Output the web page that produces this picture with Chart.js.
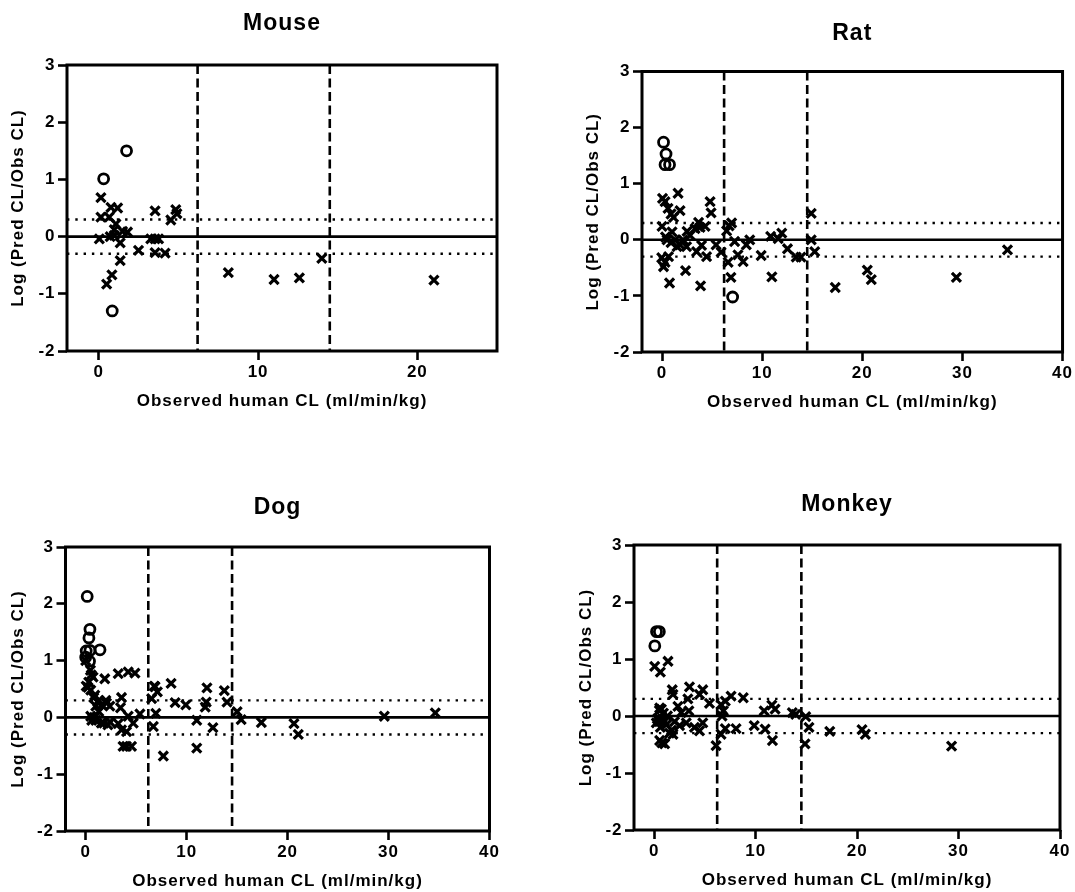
<!DOCTYPE html>
<html>
<head>
<meta charset="utf-8">
<script src="https://cdn.jsdelivr.net/npm/chart.js@4"></script>
<style>
  html, body { margin: 0; padding: 0; background: #fff; }
  body { width: 1075px; height: 892px; position: relative; overflow: hidden; }
  canvas { position: absolute; }
</style>
</head>
<body>
<canvas id="mouseChart"></canvas>
<canvas id="ratChart"></canvas>
<canvas id="dogChart"></canvas>
<canvas id="monkeyChart"></canvas>
<script>
// ===== values =====
const yTicks = [-2, -1, 0, 1, 2, 3];
const mouseXTicks = [0, 10, 20];
const wideXTicks = [0, 10, 20, 30, 40];
const cutoffLines = [6.2, 14.5];   // dashed verticals
const foldLines = [0.3, -0.3];     // dotted 2-fold limits
const unityLine = 0;

// [observed CL, log(pred/obs)]
const mouseCircles = [[0.30, 1.01], [1.74, 1.50], [0.84, -1.30]];
const mouseCrosses = [
  [0.13, 0.68], [0.76, 0.51], [1.18, 0.50], [0.13, 0.34], [0.65, 0.34], [1.07, 0.22],
  [0.97, 0.12], [0.03, -0.04], [0.71, 0.0], [0.97, 0.02], [1.49, 0.09], [1.80, 0.08],
  [1.34, -0.11], [1.34, -0.42], [0.82, -0.67], [0.49, -0.83], [2.49, -0.24], [3.26, -0.04],
  [3.53, 0.45], [3.53, -0.04], [3.75, -0.04], [3.53, -0.28], [4.16, -0.29], [4.52, 0.29],
  [4.83, 0.47], [4.90, 0.40], [8.13, -0.63], [11.0, -0.75], [12.59, -0.72], [14.0, -0.38],
  [21.04, -0.76]
];

const ratCircles = [[0.15, 1.74], [0.4, 1.53], [0.3, 1.34], [0.75, 1.34], [7.05, -1.02]];
const ratCrosses = [
  [0.05, 0.74], [0.3, 0.68], [0.6, 0.56], [0.9, 0.46], [1.15, 0.40], [1.6, 0.83],
  [1.8, 0.52], [0.0, 0.24], [0.35, 0.05], [0.5, 0.0], [1.0, 0.14], [1.3, 0.0],
  [1.8, -0.09], [2.1, 0.0], [2.45, -0.12], [-0.03, -0.32], [0.3, -0.40], [0.65, -0.30],
  [0.15, -0.48], [0.75, -0.77], [2.35, -0.55], [2.5, 0.15], [2.8, 0.08], [3.3, 0.2],
  [3.65, 0.31], [3.8, 0.22], [4.3, 0.24], [3.45, -0.21], [3.95, -0.10], [4.45, -0.30],
  [4.8, 0.68], [4.9, 0.48], [3.85, -0.82], [5.4, -0.09], [5.9, -0.22], [6.45, 0.16],
  [6.95, 0.30], [6.6, -0.40], [6.88, -0.67], [7.25, -0.03], [7.58, -0.27], [8.1, -0.39],
  [8.42, -0.09], [8.76, 0.0], [9.9, -0.28], [10.85, 0.06], [10.97, -0.66], [11.6, 0.02],
  [11.96, 0.12], [12.53, -0.16], [13.4, -0.31], [13.87, -0.31], [14.9, 0.47], [14.9, 0.0],
  [15.25, -0.21], [17.3, -0.85], [20.5, -0.54], [20.9, -0.71], [29.4, -0.67], [34.5, -0.18],
  [1.5, -0.12], [0.9, -0.05], [6.7, 0.25]
];

const dogCircles = [
  [0.15, 2.13], [0.42, 1.55], [0.32, 1.40], [1.42, 1.19], [0.05, 1.17], [0.42, 1.18],
  [0.0, 1.06], [0.38, 0.99]
];
const dogCrosses = [
  [0.0, 1.0], [0.47, 0.83], [0.73, 0.71], [0.23, 0.53], [0.5, 0.48], [0.9, 0.39],
  [1.2, 0.27], [1.6, 0.22], [1.89, 0.68], [2.06, 0.25], [2.39, 0.2], [3.22, 0.77],
  [4.21, 0.80], [4.88, 0.78], [3.55, 0.35], [3.45, 0.17], [0.5, 0.02], [0.85, 0.0],
  [1.55, -0.1], [2.2, -0.13], [3.22, -0.11], [3.55, -0.22], [4.05, -0.25], [4.71, -0.1],
  [5.37, 0.06], [4.21, 0.02], [3.7, -0.51], [4.04, -0.51], [4.54, -0.51], [6.87, 0.54],
  [7.1, 0.45], [6.53, 0.33], [6.95, 0.07], [6.7, -0.16], [7.69, -0.68], [8.46, 0.60],
  [8.86, 0.26], [9.92, 0.22], [11.0, -0.05], [11.0, -0.54], [12.01, 0.52], [11.94, 0.27],
  [11.84, 0.18], [12.6, -0.18], [13.73, 0.47], [14.0, 0.27], [15.0, 0.1], [15.4, -0.04],
  [17.4, -0.09], [20.63, -0.11], [21.06, -0.30], [29.58, 0.02], [34.63, 0.08],
  [0.3, 0.62], [0.8, 0.35], [1.0, 0.2], [1.3, 0.1], [0.6, -0.05], [1.0, -0.05],
  [1.8, -0.1], [2.4, -0.08], [1.3, 0.3], [2.0, 0.3], [0.55, 0.75], [0.05, 0.55], [6.8, 0.55]
];

const monkeyCircles = [[0.22, 1.48], [0.5, 1.48], [0.05, 1.23]];
const monkeyCrosses = [
  [0.04, 0.87], [0.6, 0.77], [1.35, 0.96], [1.77, 0.46], [1.84, 0.38], [3.47, 0.51],
  [3.31, 0.30], [4.78, 0.46], [4.46, 0.38], [5.44, 0.22], [0.53, 0.14], [2.33, 0.17],
  [2.66, 0.06], [3.41, 0.09], [2.49, -0.17], [1.84, -0.32], [3.15, -0.12], [3.96, -0.2],
  [4.46, -0.26], [4.78, -0.12], [0.53, -0.43], [1.02, -0.49], [6.09, -0.52], [6.58, 0.2],
  [6.81, 0.09], [7.0, 0.26], [7.57, 0.35], [8.77, 0.32], [6.68, 0.0], [7.0, -0.22],
  [6.58, -0.32], [8.06, -0.22], [9.85, -0.17], [10.93, -0.23], [11.65, -0.43], [10.83, 0.09],
  [11.59, 0.19], [11.91, 0.12], [13.61, 0.06], [13.94, 0.03], [14.93, -0.01], [15.25, -0.2],
  [14.86, -0.49], [17.3, -0.27], [20.48, -0.24], [20.81, -0.32], [29.31, -0.53],
  [0.5, 0.1], [0.7, 0.12], [0.3, -0.05], [0.5, -0.1], [0.8, -0.05], [1.0, -0.1],
  [0.6, -0.2], [1.2, -0.15], [1.5, -0.3], [1.7, -0.25], [0.9, 0.05], [1.3, 0.0],
  [2.0, -0.1], [0.2, -0.12], [0.75, -0.47]
];

// ===== look =====
const FONT = "'Liberation Sans', Arial, sans-serif";
const TITLE_SIZE = 23, TICK_SIZE = 17, AXIS_SIZE = 17, LH = 1.2;
const X_MIN = -2, Y_MIN = -2, Y_MAX = 3;

// page positions of each panel (canvas box, plot area, title centre, y-title centre)
const panels = [
  { id: "mouseChart", title: "Mouse", circles: mouseCircles, crosses: mouseCrosses, xMax: 25, xTicks: mouseXTicks,
    box: { left: 0, top: 0, w: 537, h: 440 }, area: { l: 67, r: 497, t: 65, b: 351 }, titleY: 23.5, yTitleX: 18 },
  { id: "ratChart", title: "Rat", circles: ratCircles, crosses: ratCrosses, xMax: 40, xTicks: wideXTicks,
    box: { left: 537, top: 0, w: 538, h: 440 }, area: { l: 642, r: 1063, t: 71.5, b: 352 }, titleY: 33.5, yTitleX: 593.5 },
  { id: "dogChart", title: "Dog", circles: dogCircles, crosses: dogCrosses, xMax: 40, xTicks: wideXTicks,
    box: { left: 0, top: 440, w: 537, h: 452 }, area: { l: 65.5, r: 489.5, t: 547, b: 831 }, titleY: 508, yTitleX: 18 },
  { id: "monkeyChart", title: "Monkey", circles: monkeyCircles, crosses: monkeyCrosses, xMax: 40, xTicks: wideXTicks,
    box: { left: 537, top: 440, w: 538, h: 452 }, area: { l: 634, r: 1060, t: 545, b: 830 }, titleY: 505, yTitleX: 586 }
];

// box round the plot area + wider letter spacing like the original
const framePlugin = {
  id: "frame",
  beforeLayout(chart) { chart.ctx.letterSpacing = "1px"; },
  beforeDraw(chart) { chart.ctx.letterSpacing = "1px"; },
  afterDatasetsDraw(chart) {
    const { ctx, chartArea: a } = chart;
    ctx.save();
    ctx.lineWidth = 3;
    ctx.strokeStyle = "#000";
    ctx.strokeRect(a.left, a.top, a.right - a.left, a.bottom - a.top);
    ctx.restore();
  }
};

function refLine(data, width, dash) {
  return {
    data, showLine: true, borderColor: "#000", borderWidth: width, borderDash: dash,
    borderCapStyle: "butt", pointRadius: 0, pointHoverRadius: 0, fill: false, order: 2
  };
}

function buildPanel(p) {
  const canvas = document.getElementById(p.id);
  canvas.width = p.box.w;
  canvas.height = p.box.h;
  canvas.style.left = p.box.left + "px";
  canvas.style.top = p.box.top + "px";

  const L = p.area.l - p.box.left, R = p.area.r - p.box.left;
  const T = p.area.t - p.box.top, B = p.area.b - p.box.top;
  const tY = p.titleY - p.box.top;
  const titleHalf = TITLE_SIZE * LH / 2;
  const axisHalf = AXIS_SIZE * LH / 2;
  const padLeft = p.yTitleX - p.box.left - axisHalf;
  const xAxisH = p.box.h - B;
  const xTitlePadBottom = xAxisH - 50 - axisHalf;

  const axisTitleFont = { family: FONT, size: AXIS_SIZE, weight: "bold" };
  const tickFont = { family: FONT, size: TICK_SIZE, weight: "bold" };
  const gridOpts = { drawOnChartArea: false, drawTicks: true, tickLength: 9, tickWidth: 2.6, tickColor: "#000" };

  new Chart(canvas, {
    type: "scatter",
    data: {
      datasets: [
        refLine([{ x: X_MIN, y: unityLine }, { x: p.xMax, y: unityLine }], 2.6, []),
        ...foldLines.map(v => refLine([{ x: X_MIN, y: v }, { x: p.xMax, y: v }], 2.4, [2.4, 5.9])),
        ...cutoffLines.map(v => refLine([{ x: v, y: Y_MAX }, { x: v, y: Y_MIN }], 2.6, [9, 4.5])),
        {
          data: p.crosses.map(([x, y]) => ({ x, y })),
          pointStyle: "crossRot", pointRadius: 6.4, borderWidth: 3.2,
          borderColor: "#000", backgroundColor: "#000", order: 0
        },
        {
          data: p.circles.map(([x, y]) => ({ x, y })),
          pointStyle: "circle", pointRadius: 5, borderWidth: 2.8,
          borderColor: "#000", backgroundColor: "rgba(0,0,0,0)", order: 0
        }
      ]
    },
    options: {
      responsive: false,
      animation: false,
      events: [],
      layout: { padding: { left: padLeft, right: p.box.w - R, top: 0, bottom: 0 } },
      plugins: {
        legend: { display: false },
        tooltip: { enabled: false },
        title: {
          display: true, text: p.title, fullSize: false, color: "#000",
          font: { family: FONT, size: TITLE_SIZE, weight: "bold", lineHeight: LH },
          padding: { top: tY - titleHalf, bottom: T - tY - titleHalf }
        }
      },
      scales: {
        x: {
          type: "linear", min: X_MIN, max: p.xMax,
          afterBuildTicks: s => { s.ticks = p.xTicks.map(v => ({ value: v })); },
          afterFit: s => { s.height = xAxisH; },
          ticks: { font: tickFont, color: "#000", padding: 2, maxRotation: 0, autoSkip: false },
          grid: gridOpts,
          border: { display: false },
          title: {
            display: true, text: "Observed human CL (ml/min/kg)", color: "#000",
            font: { ...axisTitleFont, lineHeight: LH }, padding: { top: 0, bottom: xTitlePadBottom }
          }
        },
        y: {
          type: "linear", min: Y_MIN, max: Y_MAX,
          afterBuildTicks: s => { s.ticks = yTicks.map(v => ({ value: v })); },
          afterFit: s => { s.width = L - padLeft; },
          ticks: { font: tickFont, color: "#000", padding: 2.5 },
          grid: gridOpts,
          border: { display: false },
          title: {
            display: true, text: "Log (Pred CL/Obs CL)", color: "#000",
            font: { ...axisTitleFont, lineHeight: LH }, padding: { top: 0, bottom: 0 }
          }
        }
      }
    },
    plugins: [framePlugin]
  });
}

panels.forEach(buildPanel);
</script>
</body>
</html>
